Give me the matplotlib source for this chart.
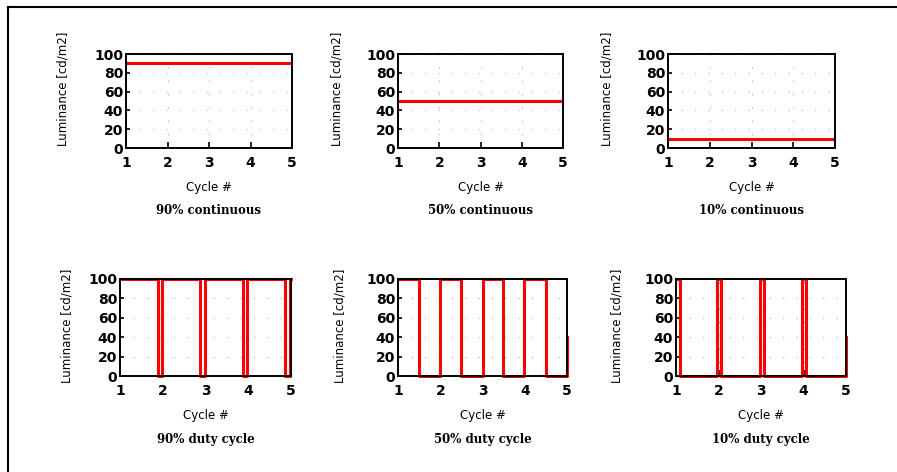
import matplotlib
matplotlib.use("Agg")
import matplotlib.pyplot as plt
from matplotlib.lines import Line2D

# Data
cycle_ticks = [1, 2, 3, 4, 5]
lum_ticks = [0, 20, 40, 60, 80, 100]

cont_titles = ["90% continuous", "50% continuous", "10% continuous"]
cont_levels = [90, 50, 10]

duty_titles = ["90% duty cycle", "50% duty cycle", "10% duty cycle"]
# step edges (x) and the level held from each edge on
duty90_x = [1.0, 1.89, 1.99, 2.88, 2.98, 3.87, 3.98, 4.87, 4.97, 5.0]
duty90_y = [100, 0, 100, 0, 100, 0, 100, 0, 100, 100]
duty50_x = [1.0, 1.49, 1.99, 2.5, 3.0, 3.49, 3.99, 4.5, 4.995, 5.0]
duty50_y = [100, 0, 100, 0, 100, 0, 100, 0, 40, 40]
duty10_x = [1.0, 1.09, 1.97, 2.07, 2.97, 3.07, 3.97, 4.07, 4.995, 5.0]
duty10_y = [100, 0, 100, 0, 100, 0, 100, 0, 40, 40]

W, H = 897, 472
fig = plt.figure(figsize=(W / 100, H / 100), dpi=100)

# axes boxes in pixels: left, right, top, bottom
top_boxes = [(126, 292, 54, 148), (398, 563, 54, 148), (668, 835, 54, 148)]
bot_boxes = [(120, 291, 279, 376), (398, 567, 279, 376), (676, 846, 279, 376)]
ylab_x = [70, 343, 613, 73, 346, 623]
ylab_y = [0.63, 0.63, 0.63, 0.52, 0.52, 0.52]


def make_axes(box):
    l, r, t, b = box
    ax = fig.add_axes([l / W, 1 - b / H, (r - l) / W, (b - t) / H])
    ax.set_xlim(1, 5)
    ax.set_ylim(0, 100)
    ax.set_xticks(cycle_ticks)
    ax.set_yticks(lum_ticks)
    ax.tick_params(direction="in", length=4, width=1.2, labelsize=10, pad=6)
    ax.tick_params(axis="y", pad=2, length=3)
    for lab in ax.get_xticklabels() + ax.get_yticklabels():
        lab.set_fontweight("bold")
    for s in ax.spines.values():
        s.set_linewidth(1.4)
    ax.grid(True, color="#aaaaaa", linestyle=(0, (1, 11)), linewidth=0.8)
    return ax


def label_axes(ax, box, title, k):
    l, r, t, b = box
    h = b - t
    ax.set_ylabel("Luminance [cd/m2]", fontsize=8.5)
    ax.yaxis.set_label_coords((ylab_x[k] - l) / (r - l), ylab_y[k])
    ax.set_xlabel("Cycle #", fontsize=8.5)
    ax.xaxis.set_label_coords(0.5, -33 / h)
    ax.text(0.5, -63 / h, title, transform=ax.transAxes, ha="center", va="center",
            fontsize=8.5, fontweight="bold", family="DejaVu Serif")


for i, box in enumerate(top_boxes):
    ax = make_axes(box)
    ax.axhline(cont_levels[i], color="#ff0000", linewidth=2.2)
    label_axes(ax, box, cont_titles[i], i)

duty_x = [duty90_x, duty50_x, duty10_x]
duty_y = [duty90_y, duty50_y, duty10_y]
for i, box in enumerate(bot_boxes):
    ax = make_axes(box)
    ax.plot(duty_x[i], duty_y[i], drawstyle="steps-post", color="#ff0000",
            linewidth=2.2, clip_on=False)
    label_axes(ax, box, duty_titles[i], 3 + i)

# frame around the figure (only left and top edges are visible)
fig.add_artist(Line2D([8 / W, 8 / W], [0, 1 - 7 / H], color="black", linewidth=1.5))
fig.add_artist(Line2D([8 / W, 1], [1 - 7 / H, 1 - 7 / H], color="black", linewidth=1.5))

fig.savefig("out.png", dpi=100)
